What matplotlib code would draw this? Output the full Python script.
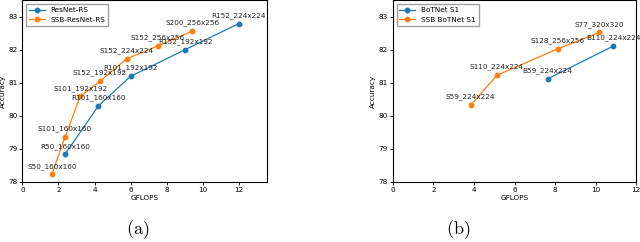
import matplotlib
matplotlib.use("Agg")
import matplotlib.pyplot as plt

# Panel (a)
resnet_flops = [2.36, 4.21, 6.0, 9.03, 12.0]
resnet_acc = [78.83, 80.3, 81.2, 82.01, 82.8]
resnet_labels = ["R50_160x160", "R101_160x160", "R101_192x192", "R152_192x192", "R152_224x224"]

ssb_resnet_flops = [1.63, 2.36, 3.2, 4.3, 5.78, 7.51, 9.41]
ssb_resnet_acc = [78.22, 79.35, 80.59, 81.05, 81.73, 82.12, 82.57]
ssb_resnet_labels = ["S50_160x160", "S101_160x160", "S101_192x192", "S152_192x192",
                     "S152_224x224", "S152_256x256", "S200_256x256"]

# Panel (b)
botnet_flops = [7.63, 10.88]
botnet_acc = [81.12, 82.12]
botnet_labels = ["B59_224x224", "B110_224x224"]

ssb_botnet_flops = [3.83, 5.13, 8.12, 10.19]
ssb_botnet_acc = [80.32, 81.23, 82.03, 82.53]
ssb_botnet_labels = ["S59_224x224", "S110_224x224", "S128_256x256", "S77_320x320"]

BLUE = "#1f77b4"
ORANGE = "#ff7f0e"
FS = 5.2

plt.rcParams["mathtext.fontset"] = "cm"

fig = plt.figure(figsize=(6.4, 2.42), dpi=100)
ax1 = fig.add_axes([0.035, 0.249, 0.382, 0.749])
ax2 = fig.add_axes([0.614, 0.249, 0.380, 0.749])


def draw(ax, series, xlim, ylim):
    for xs, ys, labs, color, name in series:
        ax.plot(xs, ys, "-o", color=color, lw=0.9, ms=3.2, label=name)
        for x, y, t in zip(xs, ys, labs):
            ax.annotate(t, (x, y), xytext=(0, 3.5), textcoords="offset points",
                        ha="center", va="bottom", fontsize=FS, color="#222222")
    ax.set_xlim(*xlim)
    ax.set_ylim(*ylim)
    ax.set_yticks([78, 79, 80, 81, 82, 83])
    ax.set_xticks(range(0, 13, 2))
    ax.tick_params(labelsize=FS, length=2, width=0.6, pad=1.5)
    ax.set_xlabel("GFLOPS", fontsize=FS, labelpad=2)
    ax.set_ylabel("Accuracy", fontsize=FS, labelpad=2)
    for s in ax.spines.values():
        s.set_linewidth(0.8)
    ax.legend(loc="upper left", fontsize=FS, frameon=True, borderpad=0.4,
              handlelength=2.2, labelspacing=0.5, fancybox=False, edgecolor="#888888")


draw(ax1, [(resnet_flops, resnet_acc, resnet_labels, BLUE, "ResNet-RS"),
           (ssb_resnet_flops, ssb_resnet_acc, ssb_resnet_labels, ORANGE, "SSB-ResNet-RS")],
     (0, 13.55), (78, 83.5))
draw(ax2, [(botnet_flops, botnet_acc, botnet_labels, BLUE, "BoTNet S1"),
           (ssb_botnet_flops, ssb_botnet_acc, ssb_botnet_labels, ORANGE, "SSB BoTNet S1")],
     (0, 12), (78, 83.5))

fig.text(138 / 640, 1 - 230 / 242, r"$\mathrm{(a)}$", ha="center", va="center", fontsize=13)
fig.text(458 / 640, 1 - 230 / 242, r"$\mathrm{(b)}$", ha="center", va="center", fontsize=13)

fig.savefig("out.png", dpi=100)
